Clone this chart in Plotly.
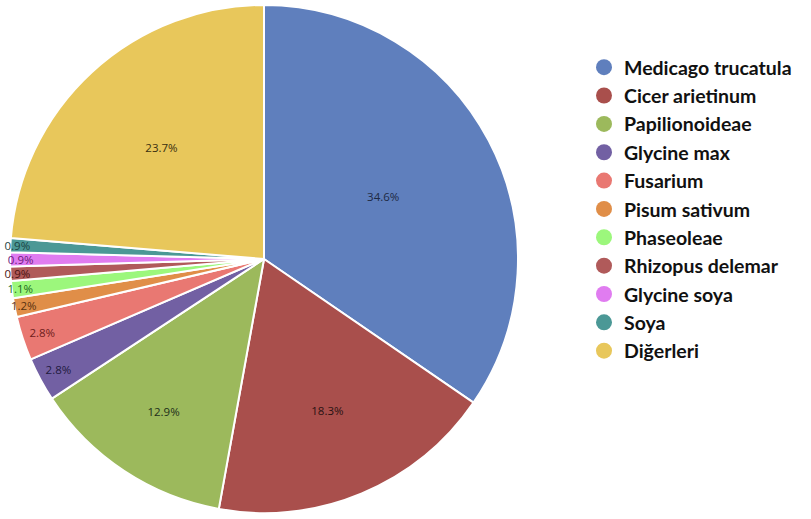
import plotly.graph_objects as go

# Share of records by organism (percent)
organisms = [
    "Medicago trucatula", "Cicer arietinum", "Papilionoideae", "Glycine max",
    "Fusarium", "Pisum sativum", "Phaseoleae", "Rhizopus delemar",
    "Glycine soya", "Soya", "Diğerleri",
]
shares = [34.6, 18.3, 12.9, 2.8, 2.8, 1.2, 1.1, 0.9, 0.9, 0.9, 23.7]

slice_colors = [
    "#5f7fbd", "#a94f4c", "#9cb95c", "#7260a3", "#e97872", "#e08e48",
    "#9cf77c", "#b05a5a", "#e07cf0", "#4b9896", "#e8c75b",
]
label_colors = [
    "#1e2a44", "#2a1212", "#22301a", "#1f1a40", "#6e1c1c", "#5a3210",
    "#1e6a1e", "#4a1414", "#6a1a7a", "#1c4443", "#3a3010",
]

W, H = 811, 519
fig = go.Figure()

fig.add_trace(go.Pie(
    labels=organisms,
    values=shares,
    sort=False,
    direction="clockwise",
    rotation=0,
    marker=dict(colors=slice_colors, line=dict(color="white", width=2)),
    texttemplate="%{value:.1f}%",
    textposition="inside",
    insidetextorientation="horizontal",
    textfont=dict(family="Open Sans", size=11.5, color=label_colors),
    showlegend=False,
    hoverinfo="label+value",
    domain=dict(x=[10 / W, 518 / W], y=[6 / H, 514 / H]),
))

# Legend entries with round swatches
for name, col in zip(organisms, slice_colors):
    fig.add_trace(go.Scatter(
        x=[None], y=[None], mode="markers", name=name,
        marker=dict(color=col, size=20, symbol="circle"),
        showlegend=True,
    ))

fig.update_layout(
    width=W, height=H,
    margin=dict(l=0, r=0, t=0, b=0),
    paper_bgcolor="white", plot_bgcolor="white",
    uniformtext=dict(minsize=11.5, mode="show"),
    xaxis=dict(visible=False), yaxis=dict(visible=False),
    legend=dict(
        x=584 / W, y=1 - 48 / H, xanchor="left", yanchor="top",
        font=dict(family="Lato", size=19.5, color="#111111", weight="bold"),
        itemsizing="trace", tracegroupgap=0,
        bgcolor="rgba(0,0,0,0)",
    ),
)

fig.write_html("out.html")
